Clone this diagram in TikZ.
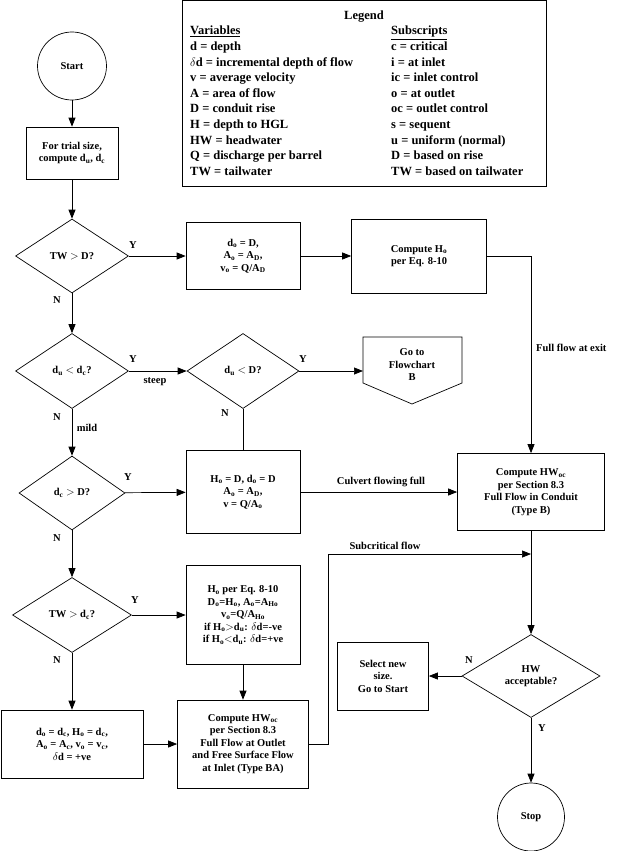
\documentclass[tikz,border=0pt]{standalone}
\usepackage{fontspec}
\setmainfont{Liberation Serif}
\usetikzlibrary{shapes.geometric,arrows.meta}
\begin{document}
\begin{tikzpicture}[x=1pt,y=-1pt,
  every node/.style={font=\fontsize{10.5}{12.5}\selectfont\bfseries},
  box/.style={draw,line width=0.7pt,align=center,inner sep=0pt},
  dia/.style={draw,diamond,line width=0.7pt,align=center,inner sep=0pt},
  lbl/.style={font=\fontsize{10.5}{12.5}\selectfont\bfseries,inner sep=1pt},
  leg/.style={anchor=north west,align=left,inner sep=0pt,font=\fontsize{12.5}{15.6}\selectfont\bfseries},
  arr/.style={line width=0.7pt,-{Triangle[length=9pt,width=7pt]}},
  ln/.style={line width=0.7pt}]
\useasboundingbox (0,0) rectangle (623,851);
\clip (0,0) rectangle (623,851);
% legend
\node[box,minimum width=364,minimum height=186] (legend) at (364,93) {};
\node[font=\fontsize{12.5}{15}\selectfont\bfseries] (legt) at (364,17) {Legend};
\node[leg] (legv) at (190,26)
 {\underline{Variables}\\d = depth\\$\delta$d = incremental depth of flow\\v = average velocity\\A = area of flow\\D = conduit rise\\H = depth to HGL\\HW = headwater\\Q = discharge per barrel\\TW = tailwater};
\node[leg] (legs) at (391,26)
 {\underline{Subscripts}\\c = critical\\i = at inlet\\ic = inlet control\\o = at outlet\\oc = outlet control\\s = sequent\\u = uniform (normal)\\D = based on rise\\TW = based on tailwater};
% nodes
\node[draw,ellipse,line width=0.7pt,minimum width=69,minimum height=68] (start) at (72,66) {Start};
\node[box,minimum width=92,minimum height=52] (trial) at (72,153) {For trial size,\\compute d\textsubscript{u}, d\textsubscript{c}};
\node[dia,minimum width=113,minimum height=74] (d1) at (72,256) {TW $>$ D?};
\node[box,minimum width=114,minimum height=67] (b1) at (243,256) {d\textsubscript{o} = D,\\A\textsubscript{o} = A\textsubscript{D},\\v\textsubscript{o} = Q/A\textsubscript{D}};
\node[box,minimum width=135,minimum height=74] (ho) at (419,256) {Compute H\textsubscript{o}\\per Eq. 8-10};
\node[dia,minimum width=113,minimum height=75] (d2) at (72,371) {d\textsubscript{u} $<$ d\textsubscript{c}?};
\node[dia,minimum width=112,minimum height=75] (d3) at (243,371) {d\textsubscript{u} $<$ D?};
\coordinate (gA) at (363,337); \coordinate (gB) at (462,337);
\coordinate (gC) at (462,383); \coordinate (gD) at (412,404); \coordinate (gE) at (363,383);
\draw[ln] (gA)--(gB)--(gC)--(gD)--(gE)--cycle;
\node[align=center] (gotob) at (412,365) {Go to\\Flowchart\\B};
\node[dia,minimum width=106,minimum height=74] (d4) at (72,493) {d\textsubscript{c} $>$ D?};
\node[box,minimum width=114,minimum height=83] (bhd) at (243,492) {H\textsubscript{o} = D, d\textsubscript{o} = D\\A\textsubscript{o} = A\textsubscript{D},\\v = Q/A\textsubscript{o}};
\node[box,minimum width=147,minimum height=77] (hwb) at (531,492) {Compute HW\textsubscript{oc}\\per Section 8.3\\Full Flow in Conduit\\(Type B)};
\node[dia,minimum width=119,minimum height=75] (d5) at (72,615) {TW $>$ d\textsubscript{c}?};
\node[box,minimum width=114,minimum height=99] (bhe) at (243,615) {H\textsubscript{o} per Eq. 8-10\\D\textsubscript{o}=H\textsubscript{o}, A\textsubscript{o}=A\textsubscript{Ho}\\v\textsubscript{o}=Q/A\textsubscript{Ho}\\if H\textsubscript{o}$>$d\textsubscript{u}: $\delta$d=-ve\\if H\textsubscript{o}$<$d\textsubscript{u}: $\delta$d=+ve};
\node[box,minimum width=142,minimum height=68] (bl) at (72,744) {d\textsubscript{o} = d\textsubscript{c}, H\textsubscript{o} = d\textsubscript{c},\\A\textsubscript{o} = A\textsubscript{c}, v\textsubscript{o} = v\textsubscript{c},\\$\delta$d = +ve};
\node[box,minimum width=131,minimum height=88] (ba) at (243,744) {Compute HW\textsubscript{oc}\\per Section 8.3\\Full Flow at Outlet\\and Free Surface Flow\\at Inlet (Type BA)};
\node[box,minimum width=91,minimum height=68] (sel) at (383,676) {Select new\\size.\\Go to Start};
\node[dia,minimum width=138,minimum height=83] (d6) at (531,676) {HW\\acceptable?};
\node[draw,ellipse,line width=0.7pt,minimum width=67,minimum height=68] (stop) at (531,817) {Stop};
\coordinate (c1) at (531,256);
\coordinate (c2) at (328,744);
\coordinate (c3) at (328,554);
\coordinate (c4) at (531,554);
% connectors
\draw[arr] (start)--(trial);
\draw[arr] (trial)--(d1);
\draw[arr] (d1)--(b1);
\draw[arr] (b1)--(ho);
\draw[arr] (ho.east)--(c1)--(hwb.north);
\draw[arr] (d1)--(d2);
\draw[arr] (d2)--(d3);
\draw[arr] (d3.east)--(gE|-d3.east);
\draw[ln] (d3.south)--(bhd.north);
\draw[arr] (d2)--(d4);
\draw[arr] (d4)--(bhd);
\draw[arr] (bhd)--(hwb);
\draw[arr] (d4)--(d5);
\draw[arr] (d5)--(bhe);
\draw[arr] (d5)--(bl);
\draw[arr] (bhe)--(ba);
\draw[arr] (bl)--(ba);
\draw[ln] (ba.east)--(c2)--(c3);
\draw[arr] (c3)--(c4);
\draw[arr] (hwb)--(d6);
\draw[arr] (d6)--(sel);
\draw[arr] (d6)--(stop);
% labels
\node[lbl] (l1) at (133,245) {Y};
\node[lbl] (l2) at (57,300) {N};
\node[lbl] (l3) at (133,359) {Y};
\node[lbl] (l4) at (155,382) {steep};
\node[lbl] (l5) at (57,417) {N};
\node[lbl] (l6) at (87,428) {mild};
\node[lbl] (l7) at (303,359) {Y};
\node[lbl] (l8) at (225,413) {N};
\node[lbl] (l9) at (128,477) {Y};
\node[lbl] (l10) at (57,538) {N};
\node[lbl] (l11) at (135,600) {Y};
\node[lbl] (l12) at (57,660) {N};
\node[lbl] (l13) at (469,660) {N};
\node[lbl] (l14) at (542,728) {Y};
\node[lbl] (l15) at (381,482) {Culvert flowing full};
\node[lbl] (l16) at (385,546) {Subcritical flow};
\node[lbl,anchor=west] (l17) at (535,348) {Full flow at exit};
\end{tikzpicture}
\end{document}
